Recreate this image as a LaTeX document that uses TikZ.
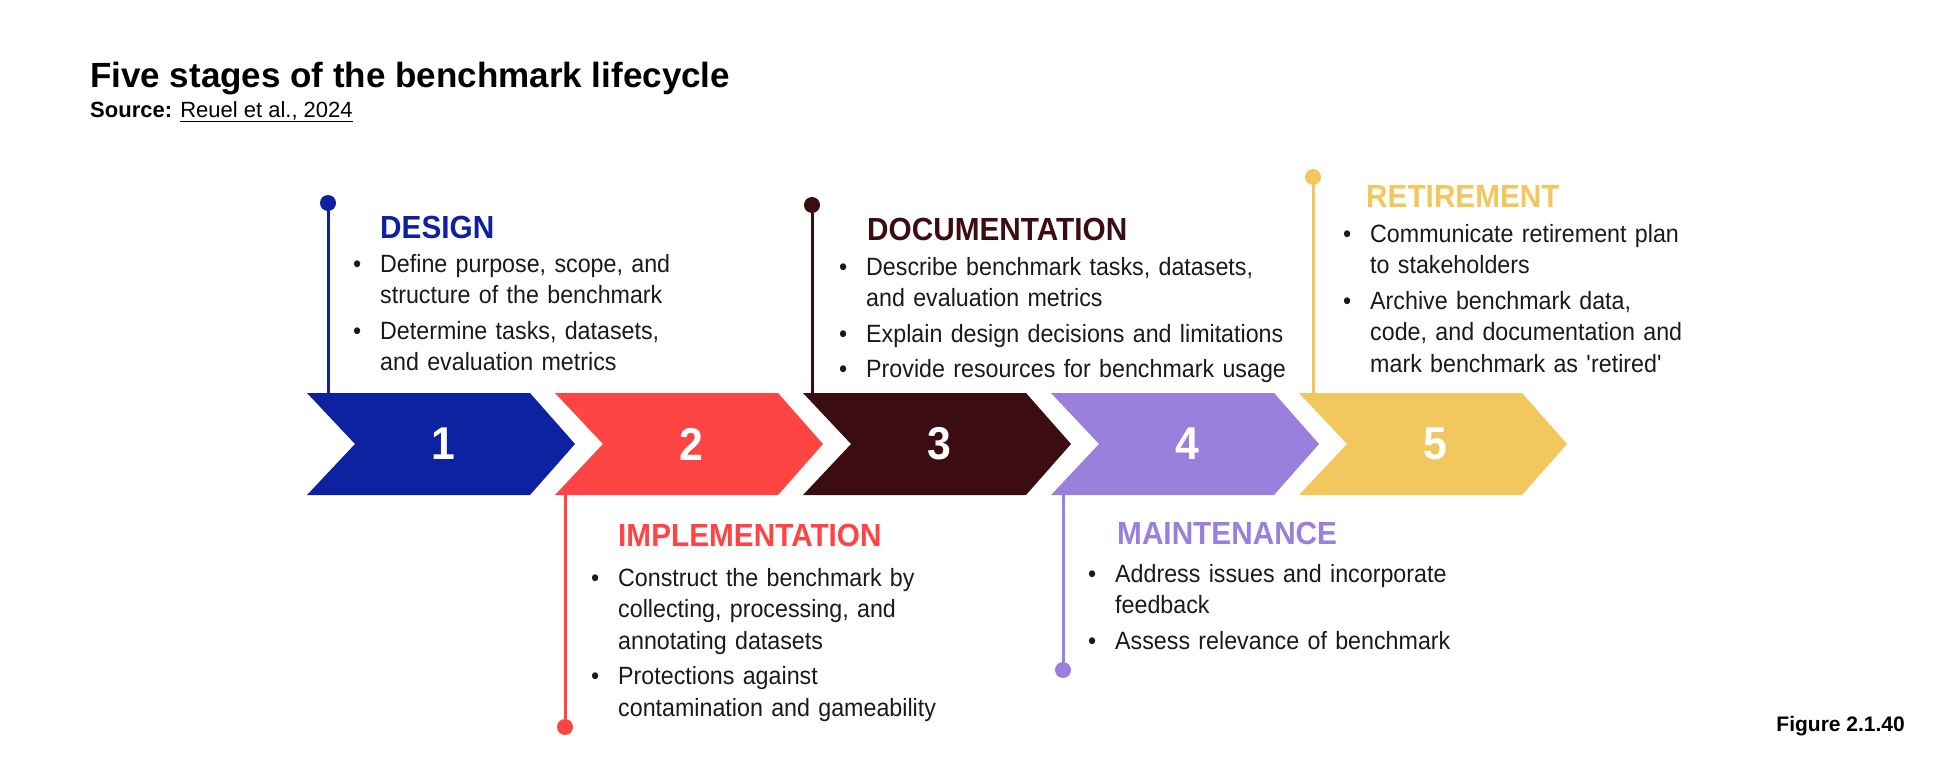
\documentclass[tikz,border=0pt]{standalone}
\usepackage{fontspec}
\setmainfont{Liberation Sans}
\newfontfamily\condfont[FakeStretch=0.93]{Liberation Sans}
\usepackage{xcolor}
\usepackage{tikz}

\definecolor{cblue}{HTML}{0D22A0}
\definecolor{cred}{HTML}{FF4444}
\definecolor{cmaroon}{HTML}{3B0D12}
\definecolor{cpurple}{HTML}{9B7FDC}
\definecolor{cyellow}{HTML}{F2C75E}
\definecolor{txtgray}{HTML}{1A1A1A}

% one bullet with hanging lines
\newcommand{\bitem}[1]{\noindent\hangindent=27pt\hangafter=1\makebox[27pt][l]{\textbullet}#1\par\vspace{4pt}}

\tikzstyle{stagedot} = [circle, inner sep=0pt, minimum size=16pt]
\tikzstyle{stemline} = [line width=3pt]
\tikzstyle{head} = [anchor=base west, inner sep=0pt, font=\condfont\bfseries\fontsize{32}{36}\selectfont]
\tikzstyle{body} = [anchor=base west, inner sep=0pt, text width=500pt, text=txtgray, font=\condfont\fontsize{25}{31.5}\selectfont]
\tikzstyle{num} = [text=white, font=\condfont\bfseries\fontsize{46}{50}\selectfont]

\begin{document}
\begin{tikzpicture}[x=1pt, y=-1pt]
\useasboundingbox (0,0) rectangle (1952,782);

% Title block
\node[anchor=base west, inner sep=0pt, font=\bfseries\fontsize{35}{40}\selectfont] (title) at (90,87) {Five stages of the benchmark lifecycle};
\node[anchor=base west, inner sep=0pt, font=\fontsize{22}{26}\selectfont] (source) at (90,117) {\textbf{Source:} \underline{Reuel et al., 2024}};
\node[anchor=base east, inner sep=0pt, font=\bfseries\fontsize{21}{24}\selectfont] (fig) at (1905,731) {Figure 2.1.40};

% Chevrons 1 to 5
\foreach \n/\col in {1/cblue, 2/cred, 3/cmaroon, 4/cpurple, 5/cyellow} {
    \pgfmathsetmacro{\xa}{307+248*(\n-1)}
    \fill[\col] (\xa,393) -- ++(223,0) -- ++(45,51) -- ++(-45,51) -- ++(-223,0) -- ++(48,-51) -- cycle;
    \node[num] (num\n) at (\xa+136,444) {\n};
}

% Stage 1: Design
\node[stagedot, fill=cblue] (dsgn) at (328,203) {};
\coordinate (dsgnfoot) at (328,393);
\draw[stemline, cblue] (dsgn) -- (dsgnfoot);
\node[head, text=cblue] (dsgnhead) at (380,238) {DESIGN};
\node[body] (dsgntxt) at (353,272) {\bitem{Define purpose, scope, and\newline structure of the benchmark}\bitem{Determine tasks, datasets,\newline and evaluation metrics}};

% Stage 2: Implementation
\coordinate (implfoot) at (565,495);
\node[stagedot, fill=cred] (impl) at (565,727) {};
\draw[stemline, cred] (implfoot) -- (impl);
\node[head, text=cred] (implhead) at (618,546) {IMPLEMENTATION};
\node[body] (impltxt) at (591,586) {\bitem{Construct the benchmark by\newline collecting, processing, and\newline annotating datasets}\bitem{Protections against\newline contamination and gameability}};

% Stage 3: Documentation
\node[stagedot, fill=cmaroon] (docu) at (812,205) {};
\coordinate (docufoot) at (812,393);
\draw[stemline, cmaroon] (docu) -- (docufoot);
\node[head, text=cmaroon] (docuhead) at (867,240) {DOCUMENTATION};
\node[body] (docutxt) at (839,275) {\bitem{Describe benchmark tasks, datasets,\newline and evaluation metrics}\bitem{Explain design decisions and limitations}\bitem{Provide resources for benchmark usage}};

% Stage 4: Maintenance
\coordinate (maintfoot) at (1063,495);
\node[stagedot, fill=cpurple] (maint) at (1063,670) {};
\draw[stemline, cpurple] (maintfoot) -- (maint);
\node[head, text=cpurple] (mainthead) at (1117,544) {MAINTENANCE};
\node[body] (mainttxt) at (1088,582) {\bitem{Address issues and incorporate\newline feedback}\bitem{Assess relevance of benchmark}};

% Stage 5: Retirement
\node[stagedot, fill=cyellow] (retire) at (1313,177) {};
\coordinate (retirefoot) at (1313,393);
\draw[stemline, cyellow] (retire) -- (retirefoot);
\node[head, text=cyellow] (retirehead) at (1366,207) {RETIREMENT};
\node[body] (retiretxt) at (1343,242) {\bitem{Communicate retirement plan\newline to stakeholders}\bitem{Archive benchmark data,\newline code, and documentation and\newline mark benchmark as \textquotesingle retired\textquotesingle}};
\end{tikzpicture}
\end{document}
